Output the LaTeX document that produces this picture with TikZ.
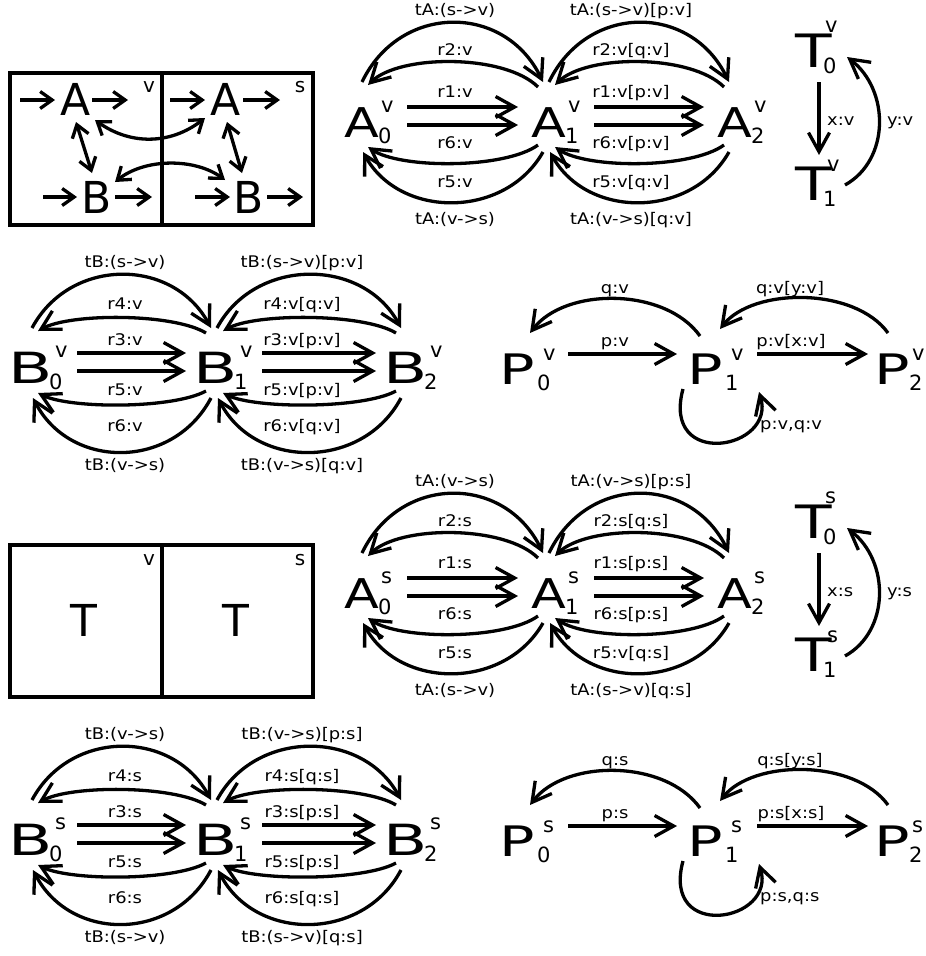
\documentclass[tikz,border=0pt]{standalone}
\usepackage{fontspec}
\setmainfont{DejaVu Sans}
\usepackage{graphicx}
\usetikzlibrary{arrows.meta,calc}

\newcommand{\labtxt}[1]{\scalebox{1.12}[1]{#1}}
% state: #1 letter, #2 hscale, #3 lsb, #4 size, #5 sup, #6 sub, #7 supx, #8 subx, #9 supraise
\newcommand{\stt}[9]{%
\rlap{\hspace*{-#3pt}\scalebox{#2}[1]{\fontsize{#4}{#4}\selectfont #1}}%
\rlap{\hspace*{#7pt}\raisebox{#9pt}{\fontsize{21}{21}\selectfont #5}}%
\hspace*{#8pt}\raisebox{-6pt}{\fontsize{21}{21}\selectfont #6}}
\newcommand{\SA}[2]{\stt{A}{1.24}{0.4}{41}{#1}{#2}{36}{33}{25}}
\newcommand{\SB}[2]{\stt{B}{1.5}{6.3}{43}{#1}{#2}{40}{34}{26}}
\newcommand{\SP}[2]{\stt{P}{1.4}{5.8}{42}{#1}{#2}{38}{32}{24}}
\newcommand{\SPb}[2]{\stt{P}{1.4}{5.8}{42}{#1}{#2}{32}{29}{24}}
\newcommand{\STz}[2]{\stt{T}{1.3}{0}{46}{#1}{#2}{30}{28}{35}}
\newcommand{\STo}[2]{\stt{T}{1.3}{0}{46}{#1}{#2}{32}{28}{29}}

\newcommand{\setgA}{\def\pOT{-134}\def\pIT{-83}\def\pIB{32}\def\pOB{82}%
\def\pLa{-122}\def\pLb{-82}\def\pLc{-40}\def\pLd{11}\def\pLe{50}\def\pLf{87}}
\newcommand{\setgB}{\def\pOT{-126}\def\pIT{-70}\def\pIB{26}\def\pOB{87}%
\def\pLa{-116}\def\pLb{-74}\def\pLc{-38}\def\pLd{12}\def\pLe{48}\def\pLf{87}}

\newcommand{\pairarr}[9]{%
\draw[arr] ($(#1.base west)+(17,-55)$) .. controls ($(#1.base west)+(55,\pOT)$) and ($(#2.base west)+(-27,\pOT)$) .. ($(#2.base west)+(11,-55)$);
\draw[arr] ($(#2.base west)+(6,-50)$) .. controls ($(#2.base west)+(-27,\pIT)$) and ($(#1.base west)+(55,\pIT)$) .. ($(#1.base west)+(23,-52)$);
\draw[arr] ($(#1.base west)+(62,-30)$) -- ($(#2.base west)+(-14,-30)$);
\draw[arr] ($(#1.base west)+(62,-12)$) -- ($(#2.base west)+(-14,-12)$);
\draw[arr] ($(#2.base west)+(6,8)$) .. controls ($(#2.base west)+(-27,\pIB)$) and ($(#1.base west)+(55,\pIB)$) .. ($(#1.base west)+(23,10)$);
\draw[arr] ($(#2.base west)+(11,15)$) .. controls ($(#2.base west)+(-27,\pOB)$) and ($(#1.base west)+(55,\pOB)$) .. ($(#1.base west)+(18,15)$);
\node[lab] (#1#2la) at ($(#1.base west)+(#3,\pLa)$) {\labtxt{#4}};
\node[lab] (#1#2lb) at ($(#1.base west)+(#3,\pLb)$) {\labtxt{#5}};
\node[lab] (#1#2lc) at ($(#1.base west)+(#3,\pLc)$) {\labtxt{#6}};
\node[lab] (#1#2ld) at ($(#1.base west)+(#3,\pLd)$) {\labtxt{#7}};
\node[lab] (#1#2le) at ($(#1.base west)+(#3,\pLe)$) {\labtxt{#8}};
\node[lab] (#1#2lf) at ($(#1.base west)+(#3,\pLf)$) {\labtxt{#9}};
}

\newcommand{\tgroup}[4]{%
\draw[arr] ($(#1.base west)+(24,15)$) -- ($(#2.base west)+(24,-45)$);
\draw[arr] ($(#2.base west)+(50,-15)$) .. controls ($(#2.base west)+(95,-40)$) and ($(#1.base west)+(95,23)$) .. ($(#1.base west)+(52,-10)$);
\node[labw] (#1x) at ($(#1.base west)+(32,58)$) {\labtxt{#3}};
\node[labw] (#1y) at ($(#1.base west)+(92,58)$) {\labtxt{#4}};
}

\newcommand{\pgroup}[8]{%
\draw[arr] ($(#1.base west)+(63,-30)$) -- ($(#2.base west)+(-16,-30)$);
\draw[arr] ($(#2.base west)+(64,-30)$) -- ($(#3.base west)+(-12,-30)$);
\draw[arr] ($(#2.base west)+(7,-48)$) .. controls ($(#2.base west)+(-28,-97)$) and ($(#1.base west)+(60,-97)$) .. ($(#1.base west)+(25,-51)$);
\draw[arr] ($(#3.base west)+(8,-51)$) .. controls ($(#3.base west)+(-25,-97)$) and ($(#2.base west)+(60,-97)$) .. ($(#2.base west)+(27,-55)$);
\draw[arr] ($(#2.base west)+(-10,5)$) .. controls ($(#2.base west)+(-32,86)$) and ($(#2.base west)+(84,66)$) .. ($(#2.base west)+(66,8)$);
\node[lab] (#1q) at ($(#1.base west)+(110,-91)$) {\labtxt{#4}};
\node[lab] (#2q) at ($(#2.base west)+(97,-91)$) {\labtxt{#5}};
\node[lab] (#1p) at ($(#1.base west)+(110,-38)$) {\labtxt{#6}};
\node[lab] (#2p) at ($(#2.base west)+(98,-38)$) {\labtxt{#7}};
\node[labw] (#2loop) at ($(#2.base west)+(67,45)$) {\labtxt{#8}};
}

\begin{document}
\begin{tikzpicture}[x=1pt,y=-1pt,
 arr/.style={line width=3.3pt,-{Straight Barb[length=19pt,width=21pt]}},
 sarr/.style={line width=3.3pt,-{Straight Barb[length=12pt,width=17pt]}},
 darr/.style={line width=3.3pt,{Straight Barb[length=12pt,width=17pt]}-{Straight Barb[length=12pt,width=17pt]}},
 state/.style={inner sep=0pt,anchor=base west},
 lab/.style={inner sep=0pt,anchor=base,font=\fontsize{16}{16}\selectfont},
 labw/.style={lab,anchor=base west},
 boxl/.style={line width=3.3pt},
 bl/.style={inner sep=0pt,anchor=base west,font=\fontsize{44}{44}\selectfont},
 tag/.style={inner sep=0pt,anchor=base,font=\fontsize{20}{20}\selectfont}]
\useasboundingbox (0,0) rectangle (926,956);

% ---------- top box ----------
\draw[boxl] (10,73) rectangle (313,225);
\draw[boxl] (162,73) -- (162,225);
\node[tag] (tagv1) at (149,92) {v};
\node[tag] (tags1) at (300,92) {s};
\node[bl] (bxav) at (60,115) {A};
\node[bl] (bxas) at (210,115) {A};
\node[bl] (bxbv) at (81,213) {B};
\node[bl] (bxbs) at (233,213) {B};
\coordinate (iav) at (20,100); \coordinate (oav) at (128,100);
\coordinate (ias) at (170,100); \coordinate (oas) at (280,100);
\coordinate (ibv) at (43,197); \coordinate (obv) at (152,197);
\coordinate (ibs) at (195,197); \coordinate (obs) at (303,197);
\draw[sarr] (iav) -- ($(bxav.base west)+(-5,-15)$);
\draw[sarr] ($(bxav.base west)+(32,-15)$) -- (oav);
\draw[sarr] (ias) -- ($(bxas.base west)+(-5,-15)$);
\draw[sarr] ($(bxas.base west)+(33,-15)$) -- (oas);
\draw[sarr] (ibv) -- ($(bxbv.base west)+(-4,-16)$);
\draw[sarr] ($(bxbv.base west)+(34,-16)$) -- (obv);
\draw[sarr] (ibs) -- ($(bxbs.base west)+(-3,-16)$);
\draw[sarr] ($(bxbs.base west)+(34,-16)$) -- (obs);
\draw[darr] ($(bxav.base west)+(16,7)$) -- ($(bxbv.base west)+(11,-40)$);
\draw[darr] ($(bxas.base west)+(17,7)$) -- ($(bxbs.base west)+(9,-40)$);
\draw[darr] ($(bxav.base west)+(35,5)$) .. controls (130,145) and (170,145) .. ($(bxas.base west)+(-5,3)$);
\draw[darr] ($(bxbv.base west)+(34,-31)$) .. controls (145,158) and (195,158) .. ($(bxbs.base west)+(-8,-33)$);

% ---------- bottom box ----------
\draw[boxl] (10,545) rectangle (313,697);
\draw[boxl] (162,545) -- (162,697);
\node[tag] (tagv2) at (149,565) {v};
\node[tag] (tags2) at (300,565) {s};
\node[bl] (bxtv) at (70,636) {T};
\node[bl] (bxts) at (222,636) {T};

% ---------- A^v ----------
\node[state] (av0) at (345,137) {\SA{v}{0}};
\node[state] (av1) at (532,137) {\SA{v}{1}};
\node[state] (av2) at (718,137) {\SA{v}{2}};
\setgA
\pairarr{av0}{av1}{110}{tA:(s->v)}{r2:v}{r1:v}{r6:v}{r5:v}{tA:(v->s)}
\pairarr{av1}{av2}{99}{tA:(s->v)[p:v]}{r2:v[q:v]}{r1:v[p:v]}{r6:v[p:v]}{r5:v[q:v]}{tA:(v->s)[q:v]}

% ---------- A^s ----------
\node[state] (as0) at (345,608) {\SA{s}{0}};
\node[state] (as1) at (532,608) {\SA{s}{1}};
\node[state] (as2) at (718,608) {\SA{s}{2}};
\pairarr{as0}{as1}{110}{tA:(v->s)}{r2:s}{r1:s}{r6:s}{r5:s}{tA:(s->v)}
\pairarr{as1}{as2}{99}{tA:(v->s)[p:s]}{r2:s[q:s]}{r1:s[p:s]}{r6:s[p:s]}{r5:v[q:s]}{tA:(s->v)[q:s]}

% ---------- B^v ----------
\node[state] (bv0) at (15,383) {\SB{v}{0}};
\node[state] (bv1) at (200,383) {\SB{v}{1}};
\node[state] (bv2) at (390,383) {\SB{v}{2}};
\setgB
\pairarr{bv0}{bv1}{110}{tB:(s->v)}{r4:v}{r3:v}{r5:v}{r6:v}{tB:(v->s)}
\pairarr{bv1}{bv2}{102}{tB:(s->v)[p:v]}{r4:v[q:v]}{r3:v[p:v]}{r5:v[p:v]}{r6:v[q:v]}{tB:(v->s)[q:v]}

% ---------- B^s ----------
\node[state] (bs0) at (15,855) {\SB{s}{0}};
\node[state] (bs1) at (200,855) {\SB{s}{1}};
\node[state] (bs2) at (390,855) {\SB{s}{2}};
\pairarr{bs0}{bs1}{110}{tB:(v->s)}{r4:s}{r3:s}{r5:s}{r6:s}{tB:(s->v)}
\pairarr{bs1}{bs2}{102}{tB:(v->s)[p:s]}{r4:s[q:s]}{r3:s[p:s]}{r5:s[p:s]}{r6:s[q:s]}{tB:(s->v)[q:s]}

% ---------- T ----------
\node[state] (tv0) at (795,67) {\STz{v}{0}};
\node[state] (tv1) at (795,200) {\STo{v}{1}};
\tgroup{tv0}{tv1}{x:v}{y:v}
\node[state] (ts0) at (795,538) {\STz{s}{0}};
\node[state] (ts1) at (795,671) {\STo{s}{1}};
\tgroup{ts0}{ts1}{x:s}{y:s}

% ---------- P ----------
\node[state] (pv0) at (505,384) {\SP{v}{0}};
\node[state] (pv1) at (693,384) {\SP{v}{1}};
\node[state] (pv2) at (880,384) {\SPb{v}{2}};
\pgroup{pv0}{pv1}{pv2}{q:v}{q:v[y:v]}{p:v}{p:v[x:v]}{p:v,q:v}
\node[state] (ps0) at (505,856) {\SP{s}{0}};
\node[state] (ps1) at (693,856) {\SP{s}{1}};
\node[state] (ps2) at (880,856) {\SPb{s}{2}};
\pgroup{ps0}{ps1}{ps2}{q:s}{q:s[y:s]}{p:s}{p:s[x:s]}{p:s,q:s}
\end{tikzpicture}
\end{document}
